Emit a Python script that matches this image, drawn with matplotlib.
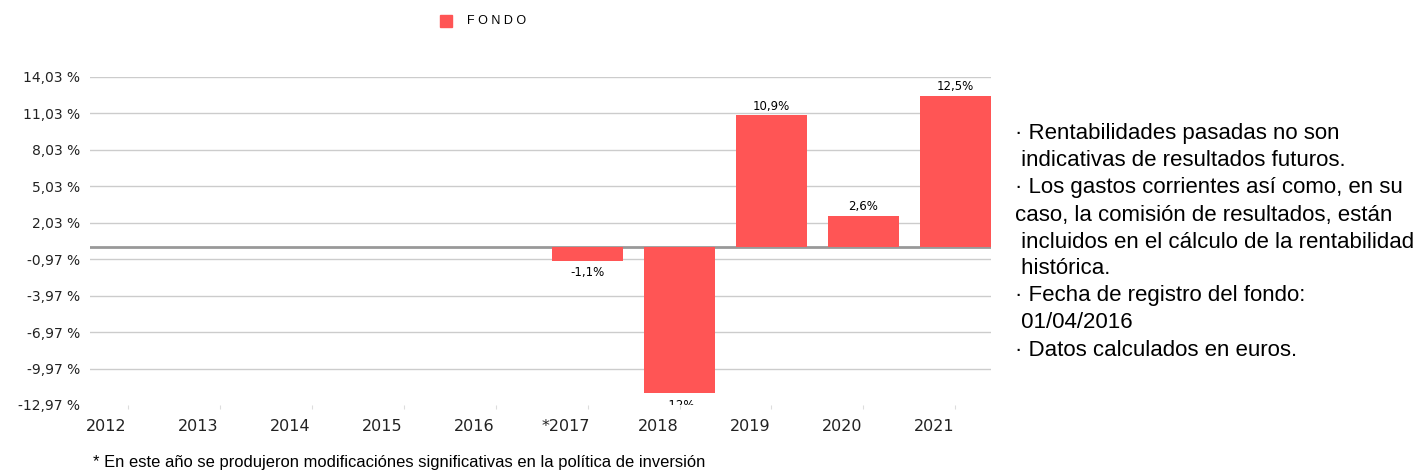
import matplotlib.pyplot as plt

plt.rcParams['font.family'] = ['Liberation Sans', 'DejaVu Sans']

# data
years = ['2012', '2013', '2014', '2015', '2016', '*2017', '2018', '2019', '2020', '2021']
fondo = [None, None, None, None, None, -1.1, -12.0, 10.9, 2.6, 12.5]
value_labels = ['', '', '', '', '', '-1,1%', '-12%', '10,9%', '2,6%', '12,5%']
yticks = [14.03, 11.03, 8.03, 5.03, 2.03, -0.97, -3.97, -6.97, -9.97, -12.97]

notes = [
    '· Rentabilidades pasadas no son',
    ' indicativas de resultados futuros.',
    '· Los gastos corrientes así como, en su',
    'caso, la comisión de resultados, están',
    ' incluidos en el cálculo de la rentabilidad',
    ' histórica.',
    '· Fecha de registro del fondo:',
    ' 01/04/2016',
    '· Datos calculados en euros.',
]
footnote = '* En este año se produjeron modificaciónes significativas en la política de inversión'

bar_color = '#FF5555'
wide = 'DejaVu Sans'  # axis texts in the original are set wide

fig = plt.figure(figsize=(14.14, 4.75), dpi=100)
ax = fig.add_axes([90 / 1414, 1 - 405 / 475, 901 / 1414, 328 / 475])

x = list(range(len(years)))
for i, v in enumerate(fondo):
    if v is None:
        continue
    ax.bar(i, v, width=0.77, color=bar_color, zorder=3)
    if v >= 0:
        ax.text(i, v + 0.2, value_labels[i], ha='center', va='bottom', fontsize=8.5,
                family=wide, zorder=4)
    else:
        ax.text(i, v - 0.45, value_labels[i], ha='center', va='top', fontsize=8.5,
                family=wide, zorder=4, clip_on=True)

ax.set_xlim(-0.408, 9.386)
ax.set_ylim(-12.97, 14.03)

for t in yticks[:-1]:
    ax.axhline(t, color='#cccccc', lw=1, zorder=1)
ax.axhline(0, color='#999999', lw=2, zorder=2)

ax.set_yticks(yticks)
ax.set_yticklabels([('%.2f %%' % t).replace('.', ',') for t in yticks],
                   fontsize=10, family=wide, color='#222222')
ax.tick_params(axis='y', length=0, pad=7)

# x labels sit a bit left of the tick centre, like the original
ax.set_xticks(x)
ax.set_xticklabels([''] * len(x))
ax.tick_params(axis='x', length=3, color='#dddddd')
for i, lab in zip(x, years):
    ax.text(i - 0.234, -0.066, lab, transform=ax.get_xaxis_transform(),
            ha='center', va='center', fontsize=11.5, family=wide, color='#222222')

for s in ax.spines.values():
    s.set_visible(False)

# legend
fig.patches.append(plt.Rectangle((440 / 1414, 1 - 27 / 475), 12 / 1414, 12 / 475,
                                 transform=fig.transFigure, color=bar_color))
fig.text(467 / 1414, 1 - 21 / 475, 'F O N D O', fontsize=9, va='center')

# notes on the right
for k, line in enumerate(notes):
    fig.text(1015 / 1414, 1 - (134 + 27 * k) / 475, line, fontsize=16, va='center')

fig.text(93 / 1414, 1 - 463 / 475, footnote, fontsize=11.9, va='center')

fig.savefig('out.png', dpi=100)
